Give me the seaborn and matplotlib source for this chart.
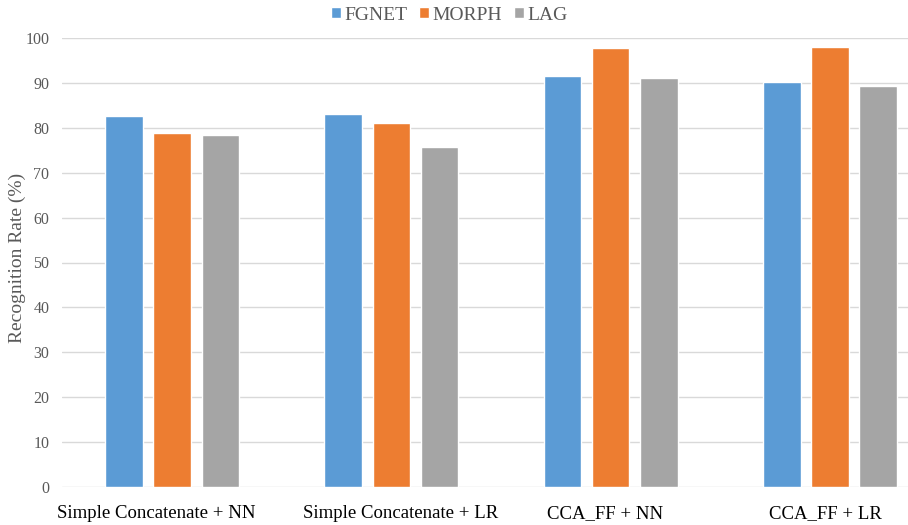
import matplotlib
matplotlib.use("Agg")
import matplotlib.pyplot as plt
import matplotlib.transforms as mtransforms
import pandas as pd
import seaborn as sns

# Data
methods = ["Simple Concatenate + NN", "Simple Concatenate + LR", "CCA_FF + NN", "CCA_FF + LR"]
datasets = ["FGNET", "MORPH", "LAG"]
fgnet = [82.7, 83.1, 91.5, 90.3]
morph = [78.9, 81.0, 97.7, 98.0]
lag = [78.5, 75.8, 91.0, 89.4]
y_ticks = list(range(0, 101, 10))

df = pd.DataFrame({
    "method": methods * 3,
    "dataset": [d for d in datasets for _ in methods],
    "rate": fgnet + morph + lag,
})

sns.set_theme(style="white")
plt.rcParams["font.family"] = ["Liberation Serif", "DejaVu Serif"]

palette = {"FGNET": "#5B9BD5", "MORPH": "#ED7D31", "LAG": "#A5A5A5"}

fig = plt.figure(figsize=(9.08, 5.25), dpi=100)
ax = fig.add_axes([0.0688, 0.0724, 0.966, 0.8552])

sns.barplot(data=df, x="method", y="rate", hue="dataset", order=methods,
            hue_order=datasets, palette=palette, width=0.66, gap=0.22,
            saturation=1, ax=ax, zorder=3)

ax.set_xlim(-0.5, 3.5)
ax.set_ylim(0, 100)
ax.set_yticks(y_ticks)
ax.yaxis.grid(True, color="#D9D9D9", linewidth=1, zorder=0)
ax.set_axisbelow(True)
for s in ax.spines.values():
    s.set_visible(False)

ax.tick_params(axis="y", length=0, pad=9.5, labelsize=11.5, labelcolor="#595959")
ax.tick_params(axis="x", length=0, pad=13, labelsize=13.5, labelcolor="black")
ax.set_xlabel("")
ax.set_ylabel("Recognition Rate (%)", fontsize=14, color="#595959")
ax.yaxis.set_label_coords(-0.042, 0.51)

# the original category labels sit a little off their bar groups
nudges = [-16, 9, -6, -5]
for lbl, dx in zip(ax.get_xticklabels(), nudges):
    lbl.set_transform(lbl.get_transform() + mtransforms.ScaledTranslation(dx / 100, 0, fig.dpi_scale_trans))

handles, labels = ax.get_legend_handles_labels()
ax.get_legend().remove()
fig.legend(handles, labels, loc="center", bbox_to_anchor=(0.495, 0.971),
           ncol=3, frameon=False, prop={"family": "Liberation Serif", "size": 14},
           labelcolor="#595959", handlelength=0.5, handleheight=0.5,
           handletextpad=0.2, columnspacing=0.6)

fig.savefig("out.png", dpi=100)
